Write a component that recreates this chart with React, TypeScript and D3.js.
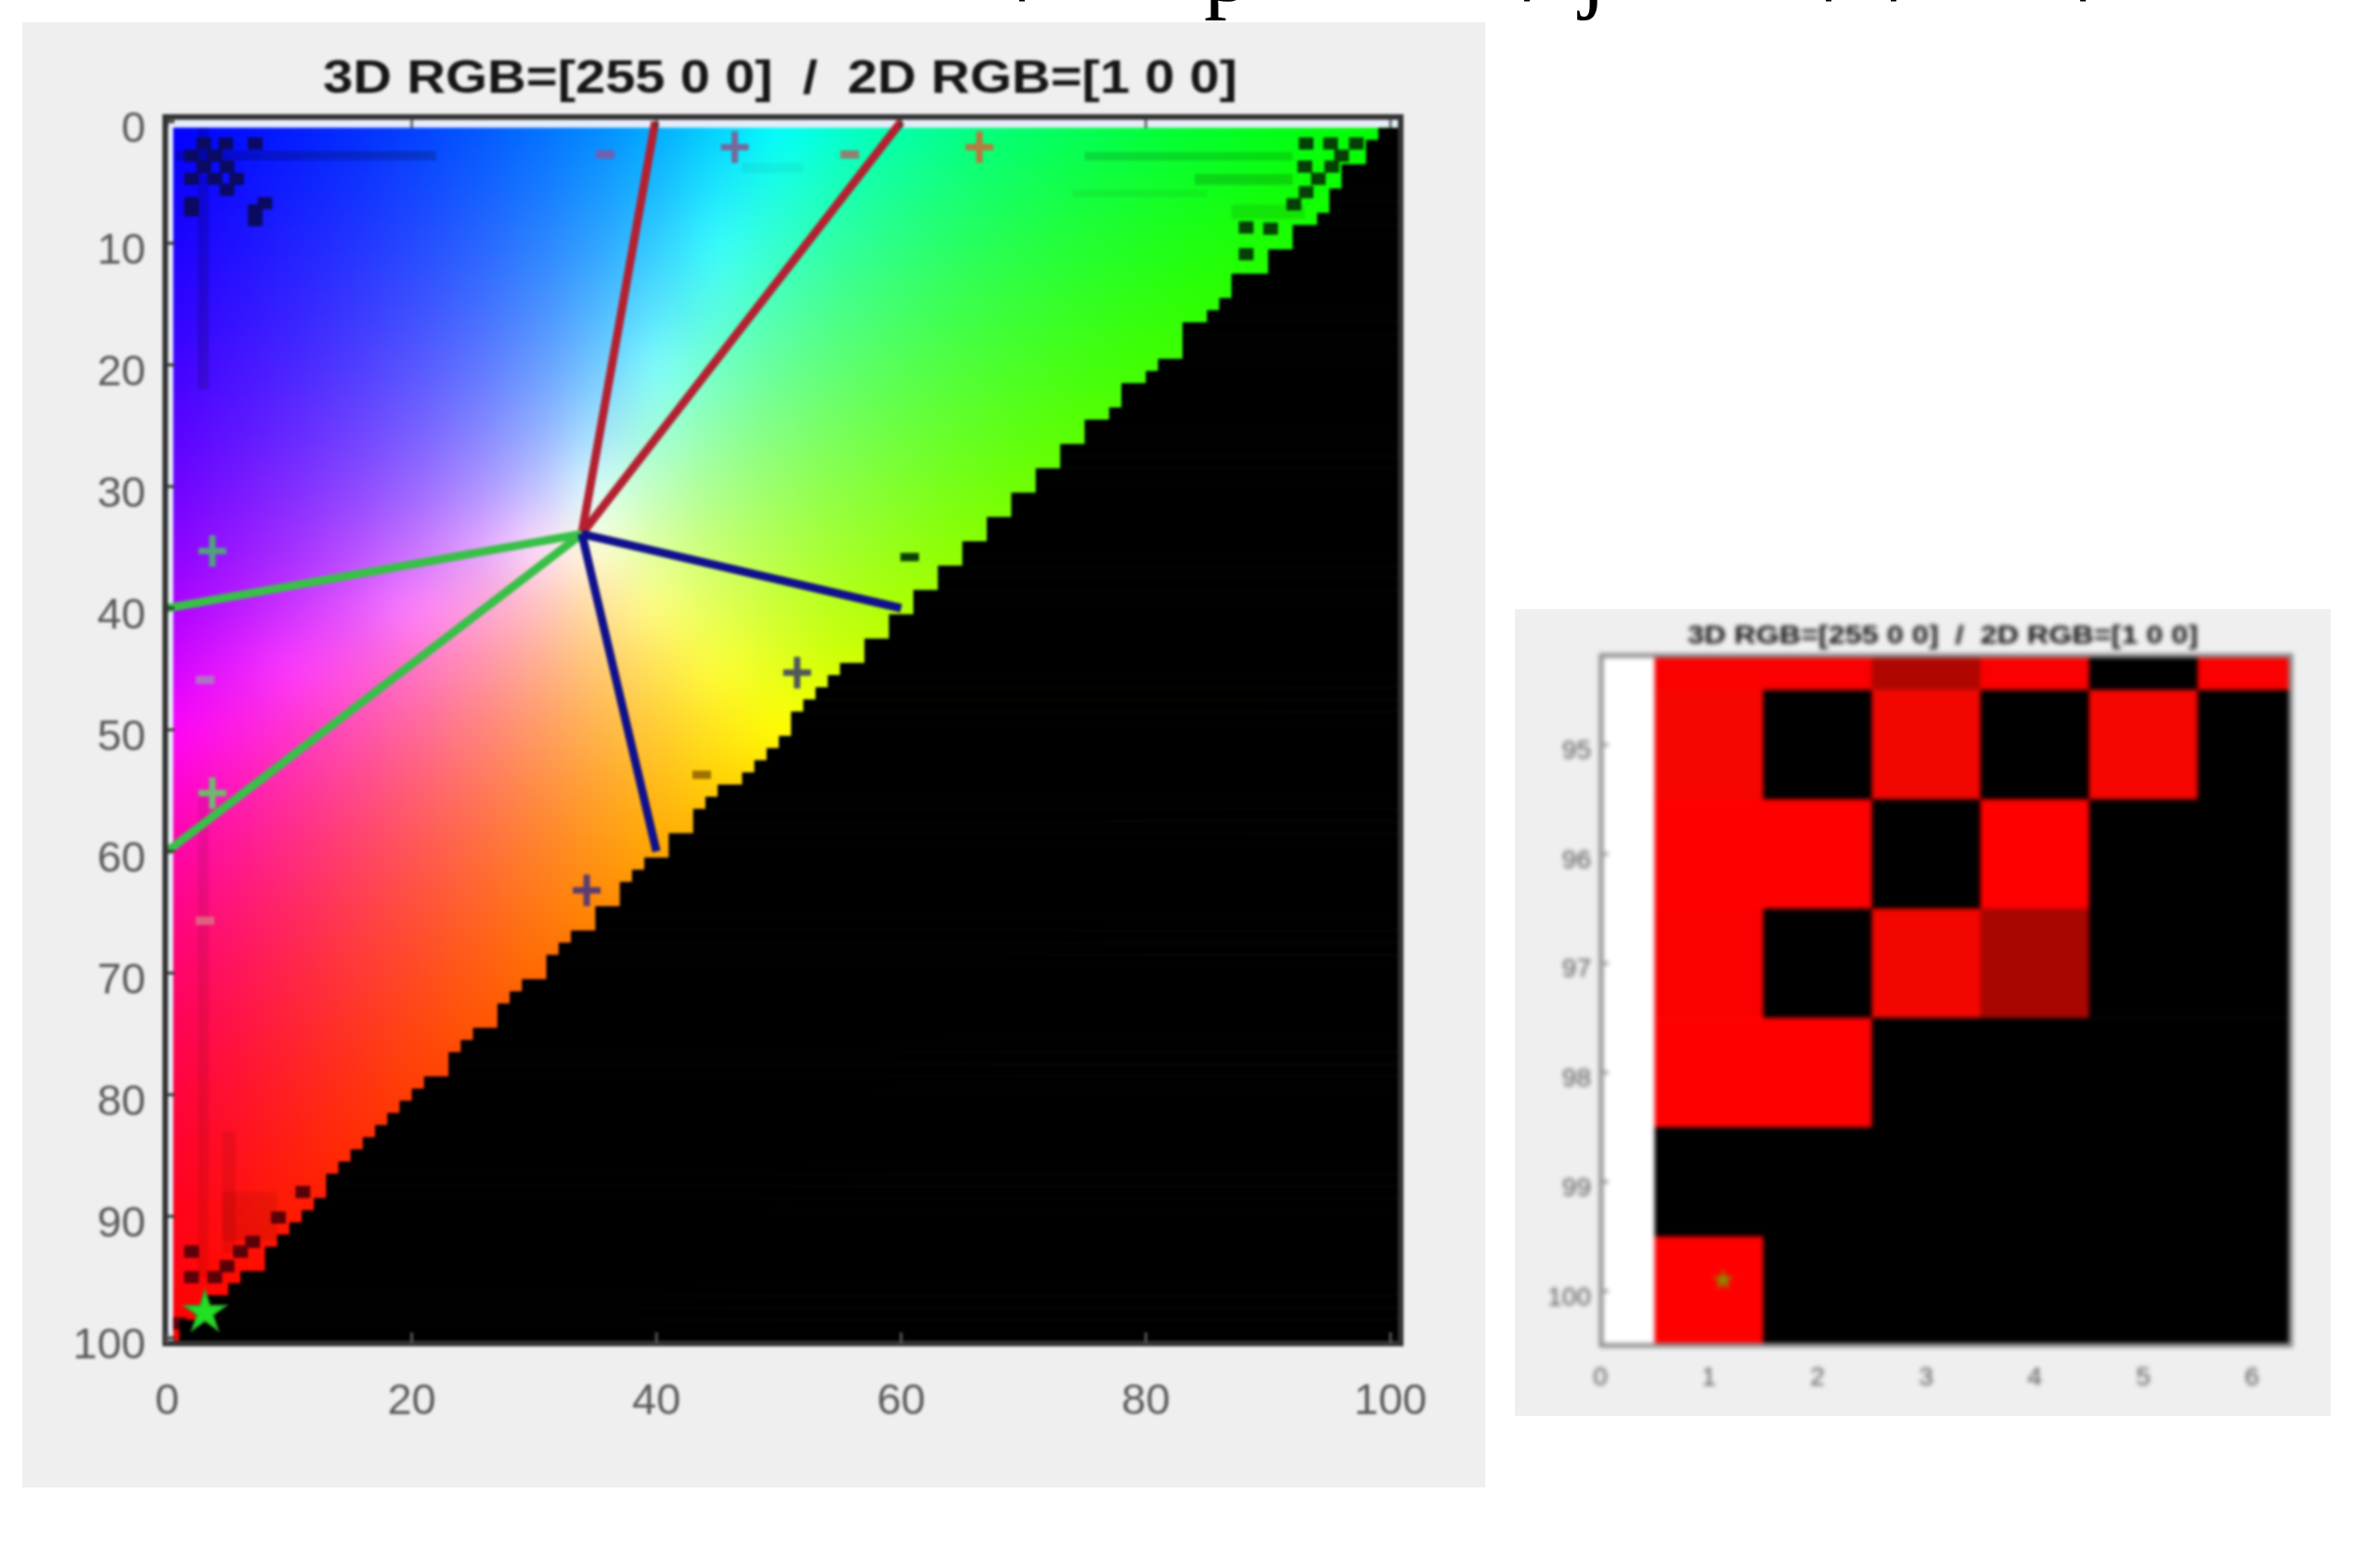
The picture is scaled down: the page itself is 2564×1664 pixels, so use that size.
import React from 'react';
import * as d3 from 'd3';

const titleText = '3D RGB=[255 0 0]  /  2D RGB=[1 0 0]';
const mainTicks = [0, 20, 40, 60, 80, 100];
const mainYTicks = [0, 10, 20, 30, 40, 50, 60, 70, 80, 90, 100];
const zoomXTicks = [0, 1, 2, 3, 4, 5, 6];
const zoomYTicks = [95, 96, 97, 98, 99, 100];

// colours read every 5 units, one string per row (row 0, 5, 10 ...), from column 0 on
const colorRows = [
  '0000ff 000dff 001cff 002dff 0040ff 0055ff 006dff 0089ff 00aaff 00d1ff 00ffff 00ffd1 00ffaa 00ff89 00ff6d 00ff55 00ff40 00ff2d 00ff1c 00ff0d 00ff00',
  '0d00ff 0e0eff 0f1eff 1030ff 1144ff 125bff 1476ff 1595ff 17b9ff 1ae6ff 1affe6 17ffb9 15ff95 14ff76 12ff5b 11ff44 10ff30 0fff1e 0eff0e 0dff00',
  '1c00ff 1e0fff 2020ff 2233ff 2449ff 2762ff 2b80ff 2ea2ff 33ccff 39ffff 33ffcc 2effa2 2bff80 27ff62 24ff49 22ff33 20ff20 1eff0f 1cff00',
  '2d00ff 3010ff 3322ff 3737ff 3b4eff 406aff 468bff 4db3ff 55e3ff 55ffe3 4dffb3 46ff8b 40ff6a 3bff4e 37ff37 33ff22 30ff10 2dff00',
  '4000ff 4411ff 4924ff 4e3bff 5555ff 5d74ff 6699ff 71c6ff 80ffff 71ffc6 66ff99 5dff74 55ff55 4eff3b 49ff24 44ff11 40ff00',
  '5500ff 5b12ff 6227ff 6a40ff 745dff 8080ff 8eaaff 9fdfff 9fffdf 8effaa 80ff80 74ff5d 6aff40 62ff27 5bff12 55ff00',
  '6d00ff 7614ff 802bff 8b46ff 9966ff aa8eff bfbfff dbffff bfffbf aaff8e 99ff66 8bff46 80ff2b 76ff14 6dff00',
  '8900ff 9515ff a22eff b34dff c671ff df9fff ffdbff ffffdb dfff9f c6ff71 b3ff4d a2ff2e 95ff15 89ff00',
  'aa00ff b917ff cc33ff e355ff ff80ff ff9fdf ffbfbf ffdf9f ffff80 e3ff55 ccff33 b9ff17 aaff00',
  'd100ff e61aff ff39ff ff55e3 ff71c6 ff8eaa ffaa8e ffc671 ffe355 ffff39 e6ff1a d1ff00',
  'ff00ff ff1ae6 ff33cc ff4db3 ff6699 ff8080 ff9966 ffb34d ffcc33 ffe61a ffff00',
  'ff00d1 ff17b9 ff2ea2 ff468b ff5d74 ff745d ff8b46 ffa22e ffb917 ffd100',
  'ff00aa ff1595 ff2b80 ff406a ff5555 ff6a40 ff802b ff9515 ffaa00',
  'ff0089 ff1476 ff2762 ff3b4e ff4e3b ff6227 ff7614 ff8900',
  'ff006d ff125b ff2449 ff3737 ff4924 ff5b12 ff6d00',
  'ff0055 ff1144 ff2233 ff3322 ff4411 ff5500',
  'ff0040 ff1030 ff2020 ff3010 ff4000',
  'ff002d ff0f1e ff1e0f ff2d00',
  'ff001c ff0e0e ff1c00',
  'ff000d ff0d00',
  'ff0000',
];

// where the coloured part of each image row (1..100) ends
const rowEnds = [
  99, 98, 98, 96, 96, 95, 95, 94, 92, 92, 90, 90, 87, 87, 86, 85, 83, 83, 83, 81,
  80, 78, 78, 77, 75, 75, 73, 73, 71, 71, 69, 69, 67, 67, 65, 65, 63, 63, 61, 61,
  59, 59, 57, 57, 55, 54, 53, 52, 51, 51, 50, 49, 48, 47, 45, 44, 43, 43, 41, 41,
  39, 38, 37, 37, 35, 35, 33, 32, 31, 31, 29, 28, 27, 27, 25, 24, 23, 23, 21, 20,
  19, 18, 17, 16, 15, 14, 13, 13, 12, 11, 10, 9, 8, 8, 6, 5, 3, 3, 1, 1,
];

const lineFrom = [33.9, 33.9];
const redEnds = [[39.9, 0], [60, 0]];
const greenEnds = [[0, 40], [0, 60]];
const blueEnds = [[60, 40], [40, 60]];

const plusPoints = [[46.4, 2.1], [66.4, 2.1], [3.7, 35.3], [3.7, 55.2], [51.5, 45.3], [34.3, 63.2]];
const plusColors = ['#746a9c', '#b87a40', '#50a080', '#70b870', '#50585c', '#5c3c70'];
const minusPoints = [[35.8, 2.7], [55.8, 2.7], [3.1, 45.9], [3.1, 65.7], [60.7, 35.8], [43.7, 53.7]];
const minusColors = ['#7060b0', '#908070', '#b070c8', '#e06080', '#0c4000', '#a07000'];
const starPoint = [3.1, 97.9];

const darkBlue = [[3, 1.8], [4.8, 1.8], [7.2, 1.8], [2, 2.8], [3.9, 2.8], [3, 3.7], [4.9, 3.7], [2, 4.7], [3.9, 4.7], [5.7, 4.7], [4.9, 5.6], [2, 6.7], [8, 6.7], [7.2, 7.3], [2, 7.3], [7.2, 8.1]];
const darkGreen = [[93.1, 1.8], [95.1, 1.8], [97.2, 1.8], [96, 2.8], [93, 3.7], [95.2, 3.7], [94.1, 4.7], [93.1, 5.8], [92.1, 6.8], [88.2, 8.7], [90.2, 8.8], [88.2, 10.9]];
const darkRed = [[11.1, 88], [9.1, 90.1], [7, 92.1], [2, 92.9], [6, 92.9], [4.9, 94.1], [2, 95], [3.9, 95], [1, 98.8]];
const darkStreaks = [
  [0.7, 2.4, 22, 3.2], [2.5, 0.5, 3.4, 22], [75, 2.5, 92, 3.2], [84, 4.3, 92, 5.2], [74, 5.6, 85, 6.2],
  [2.5, 55, 3.4, 95], [4.5, 83, 5.6, 93], [4.5, 88, 9, 92], [87, 6.8, 93, 8], [47, 3.4, 52, 4.2],
];
const streakAlpha = [0.2, 0.16, 0.14, 0.16, 0.06, 0.08, 0.08, 0.08, 0.1, 0.05];

// zoomed panel: rows 94..100, columns 1..6 (brightness of red, 0 = black)
const zoomRows = [94, 95, 96, 97, 98, 99, 100];
const zoomColumns = [1, 2, 3, 4, 5, 6];
const row94 = [250, 250, 176, 250, 0, 250];
const row95 = [246, 0, 242, 0, 246, 0];
const row96 = [255, 255, 0, 255, 0, 0];
const row97 = [250, 0, 244, 168, 0, 0];
const row98 = [255, 255, 0, 0, 0, 0];
const row99 = [0, 0, 0, 0, 0, 0];
const row100 = [255, 0, 0, 0, 0, 0];
const zoomValues = [row94, row95, row96, row97, row98, row99, row100];
const zoomStar = [1.13, 99.9];

const clippedTextMarks = [1101, 1645, 1970, 2040, 2244];

const sans = '"Liberation Sans", Arial, sans-serif';
const x = d3.scaleLinear().domain([0, 100]).range([180, 1498]);
const y = d3.scaleLinear().domain([0, 100]).range([131, 1441]);
const zx = d3.scaleLinear().domain([0, 1]).range([1724, 1841]);
const zy = d3.scaleLinear().domain([95, 100]).range([802, 1390.5]);
const boxLeft = 178, boxRight = 1509, boxTop = 126, boxBottom = 1447;
const zLeft = 1725, zRight = 2468, zTop = 706, zBottom = 1449;
const star = d3.symbol(d3.symbolStar, 620)();

function Arm({ p, color, plus }: { p: number[]; color: string; plus: boolean }) {
  const cx = x(p[0]), cy = y(p[1]);
  return plus ? (
    <g stroke={color} strokeWidth={7}>
      <line x1={cx - 15} x2={cx + 15} y1={cy} y2={cy} />
      <line x1={cx} x2={cx} y1={cy - 17} y2={cy + 17} />
    </g>
  ) : (
    <line x1={cx - 10} x2={cx + 10} y1={cy} y2={cy} stroke={color} strokeWidth={9} />
  );
}

export default function App() {
  const cells = colorRows.flatMap((row, ri) => {
    const cols = row.split(' ');
    return cols.map((c, ci) => {
      const cv = ci * 5, rv = ri * 5;
      const x0 = ci === 0 ? x(-20) : x(cv - 2.5);
      const x1 = ci === cols.length - 1 ? x(cv + 40) : x(cv + 2.5);
      const y0 = ri === 0 ? y(-20) : y(rv - 2.5);
      const y1 = ri === colorRows.length - 1 ? y(rv + 20) : y(rv + 2.5);
      return <rect key={`${ri}-${ci}`} x={x0} y={y0} width={x1 - x0 + 0.5} height={y1 - y0 + 0.5} fill={`#${c}`} />;
    });
  });
  const dark = (list: number[][], fill: string, key: string) =>
    list.map((d, i) => (
      <rect key={key + i} x={x(d[0] - 0.6)} y={y(d[1] - 0.5)} width={x(1.2) - x(0)} height={y(1) - y(0)} fill={fill} />
    ));
  return (
    <svg width={2564} height={1664} viewBox="0 0 2564 1664" style={{ position: 'absolute', left: 0, top: 0, display: 'block', background: '#fff' }}>
      <defs>
        <filter id="field" filterUnits="userSpaceOnUse" x={0} y={0} width={1700} height={1700} colorInterpolationFilters="sRGB">
          <feGaussianBlur stdDeviation={26} />
        </filter>
        <filter id="soft" filterUnits="userSpaceOnUse" x={0} y={0} width={1620} height={1664} colorInterpolationFilters="sRGB">
          <feGaussianBlur stdDeviation={1.6} />
        </filter>
        <filter id="softer" filterUnits="userSpaceOnUse" x={1620} y={640} width={944} height={1000} colorInterpolationFilters="sRGB">
          <feGaussianBlur stdDeviation={2.6} />
        </filter>
        <clipPath id="imageClip">
          <rect x={x(0.5)} y={y(0.5)} width={boxRight - x(0.5)} height={boxBottom - y(0.5)} />
        </clipPath>
        <clipPath id="topClip">
          <rect x={1000} y={0} width={1400} height={24} />
        </clipPath>
      </defs>

      {/* remains of the text cut off above the figure */}
      <g clipPath="url(#topClip)" fontFamily='"Liberation Serif", serif' fontSize={100} fill="#000">
        <text x={1297} y={1}>p</text>
        <text x={1702} y={1}>j</text>
        {clippedTextMarks.map((m) => (
          <rect key={m} x={m - 3} y={0} width={6} height={1.5} />
        ))}
      </g>

      <rect x={24} y={24} width={1576} height={1578} fill="#efefef" />
      <g filter="url(#soft)">
        <text x={(348 + 1333) / 2} y={100} textAnchor="middle" textLength={985} lengthAdjust="spacingAndGlyphs"
          fontFamily={sans} fontWeight={700} fontSize={50} fill="#151515" style={{ whiteSpace: 'pre' }}>{titleText}</text>

        <rect x={boxLeft} y={boxTop} width={boxRight - boxLeft} height={boxBottom - boxTop} fill="#e6ecf8" />
        <g clipPath="url(#imageClip)">
          <g filter="url(#field)">{cells}</g>
          {darkStreaks.map((s, i) => (
            <rect key={i} x={x(s[0])} y={y(s[1])} width={x(s[2]) - x(s[0])} height={y(s[3]) - y(s[1])} fill="#000" opacity={streakAlpha[i]} />
          ))}
          {dark(darkBlue, '#0a0a60', 'db')}
          {dark(darkGreen, '#054005', 'dg')}
          {dark(darkRed, '#5a0008', 'dr')}
          {rowEnds.map((e, i) => (
            <rect key={i} x={x(e)} y={y(i + 0.5)} width={boxRight - x(e)} height={y(i + 1.5) - y(i + 0.5) + 0.5} fill="#000" />
          ))}
        </g>

        {redEnds.map((e, i) => (
          <line key={i} x1={x(lineFrom[0])} y1={y(lineFrom[1])} x2={x(e[0])} y2={y(e[1])} stroke="#b42030" strokeWidth={9} />
        ))}
        {greenEnds.map((e, i) => (
          <line key={i} x1={x(lineFrom[0])} y1={y(lineFrom[1])} x2={x(e[0])} y2={y(e[1])} stroke="#38c048" strokeWidth={9} />
        ))}
        {blueEnds.map((e, i) => (
          <line key={i} x1={x(lineFrom[0])} y1={y(lineFrom[1])} x2={x(e[0])} y2={y(e[1])} stroke="#10108c" strokeWidth={9} />
        ))}
        {plusPoints.map((p, i) => <Arm key={i} p={p} color={plusColors[i]} plus />)}
        {minusPoints.map((p, i) => <Arm key={i} p={p} color={minusColors[i]} plus={false} />)}
        <path d={star} transform={`translate(${x(starPoint[0])},${y(starPoint[1])})`} fill="#22e022" stroke="#2aa02a" strokeWidth={2} />

        <rect x={boxLeft} y={boxTop} width={boxRight - boxLeft} height={boxBottom - boxTop} fill="none" stroke="#333" strokeWidth={6} />
        {mainYTicks.map((t) => (
          <g key={t}>
            <line x1={boxLeft} x2={boxLeft + 10} y1={y(t)} y2={y(t)} stroke="#333" strokeWidth={3} />
            <text x={157} y={y(t) + 5} dy="0.36em" textAnchor="end" fontFamily={sans} fontSize={47} fill="#5a5a5a">{t}</text>
          </g>
        ))}
        {mainTicks.map((t) => (
          <g key={t}>
            <line x1={x(t)} x2={x(t)} y1={boxTop} y2={boxTop + 12} stroke="#333" strokeWidth={3} opacity={0.7} />
            <line x1={x(t)} x2={x(t)} y1={boxBottom} y2={boxBottom - 12} stroke="#555" strokeWidth={3} />
            <text x={x(t)} y={1523} textAnchor="middle" fontFamily={sans} fontSize={47} fill="#5a5a5a">{t}</text>
          </g>
        ))}
      </g>

      <rect x={1632} y={656} width={879} height={869} fill="#efefef" />
      <g filter="url(#softer)">
        <text x={(1818 + 2368) / 2} y={693} textAnchor="middle" textLength={550} lengthAdjust="spacingAndGlyphs"
          fontFamily={sans} fontWeight={700} fontSize={27} fill="#101010" style={{ whiteSpace: 'pre' }}>{titleText}</text>
        <rect x={zLeft} y={zTop} width={zRight - zLeft} height={zBottom - zTop} fill="#fff" />
        {zoomRows.map((r, ri) =>
          zoomColumns.map((c, ci) => {
            const v = zoomValues[ri][ci];
            const x0 = zx(c - 0.5), x1 = Math.min(zx(c + 0.5), zRight);
            const y0 = Math.max(zy(r - 0.5), zTop), y1 = Math.min(zy(r + 0.5), zBottom);
            return <rect key={`${r}-${c}`} x={x0} y={y0} width={x1 - x0 + 0.5} height={y1 - y0 + 0.5} fill={d3.rgb(v, v > 0 && v < 250 ? 6 : 0, 0).toString()} />;
          })
        )}
        <path d={d3.symbol(d3.symbolStar, 160)()} transform={`translate(${zx(zoomStar[0])},${zy(zoomStar[1])})`} fill="#8a8a00" />
        <rect x={zLeft} y={zTop} width={zRight - zLeft} height={zBottom - zTop} fill="none" stroke="#8f8f8f" strokeWidth={5} />
        {zoomYTicks.map((t) => (
          <g key={t}>
            <line x1={zLeft} x2={zLeft + 8} y1={zy(t)} y2={zy(t)} stroke="#8f8f8f" strokeWidth={3} />
            <text x={1714} y={zy(t) + 5} dy="0.36em" textAnchor="end" fontFamily={sans} fontSize={28} fill="#555">{t}</text>
          </g>
        ))}
        {zoomXTicks.map((t) => (
          <text key={t} x={zx(t)} y={1492} textAnchor="middle" fontFamily={sans} fontSize={28} fill="#555">{t}</text>
        ))}
      </g>
    </svg>
  );
}
